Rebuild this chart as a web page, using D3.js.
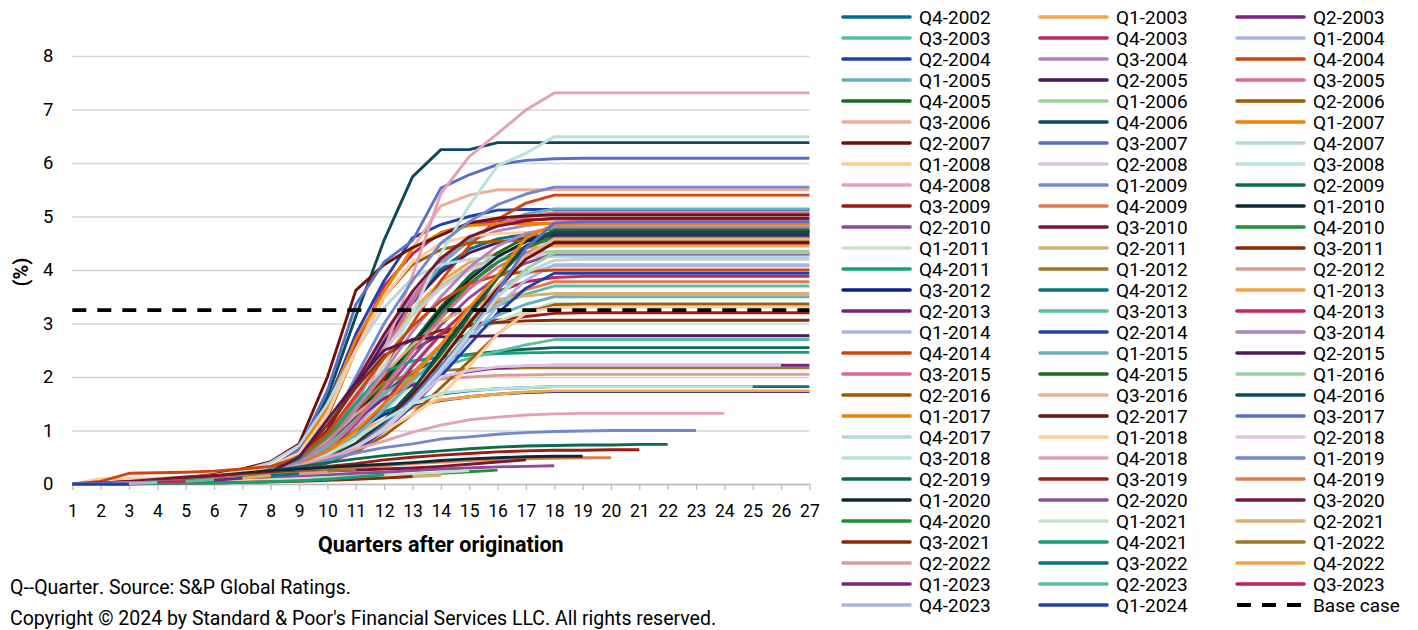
<!DOCTYPE html>
<html><head><meta charset="utf-8">
<script src="https://cdn.jsdelivr.net/npm/d3@7/dist/d3.min.js"></script>
<style>
body{margin:0;background:#fff;}
svg text{font-family:Roboto,"Noto Sans",sans-serif;fill:#000;}
.nokern{font-kerning:none;font-feature-settings:"kern" 0,"liga" 0;}
</style>
</head><body>
<svg id="chart" width="1418" height="630"></svg>
<script>
const quarterTicks = [1,2,3,4,5,6,7,8,9,10,11,12,13,14,15,16,17,18,19,20,21,22,23,24,25,26,27];
const yTicks = [0,1,2,3,4,5,6,7,8];
const baseCaseValue = 3.25;
const baseCaseLabel = "Base case";
const xTitle = "Quarters after origination";
const yTitle = "(%)";
const footnotes = ["Q--Quarter. Source: S&P Global Ratings.", "Copyright \u00a9 2024 by Standard & Poor's Financial Services LLC. All rights reserved."];

const vintages = ["Q4-2002","Q1-2003","Q2-2003","Q3-2003","Q4-2003","Q1-2004","Q2-2004","Q3-2004","Q4-2004","Q1-2005","Q2-2005","Q3-2005","Q4-2005","Q1-2006","Q2-2006","Q3-2006","Q4-2006","Q1-2007","Q2-2007","Q3-2007","Q4-2007","Q1-2008","Q2-2008","Q3-2008","Q4-2008","Q1-2009","Q2-2009","Q3-2009","Q4-2009","Q1-2010","Q2-2010","Q3-2010","Q4-2010","Q1-2011","Q2-2011","Q3-2011","Q4-2011","Q1-2012","Q2-2012","Q3-2012","Q4-2012","Q1-2013","Q2-2013","Q3-2013","Q4-2013","Q1-2014","Q2-2014","Q3-2014","Q4-2014","Q1-2015","Q2-2015","Q3-2015","Q4-2015","Q1-2016","Q2-2016","Q3-2016","Q4-2016","Q1-2017","Q2-2017","Q3-2017","Q4-2017","Q1-2018","Q2-2018","Q3-2018","Q4-2018","Q1-2019","Q2-2019","Q3-2019","Q4-2019","Q1-2020","Q2-2020","Q3-2020","Q4-2020","Q1-2021","Q2-2021","Q3-2021","Q4-2021","Q1-2022","Q2-2022","Q3-2022","Q4-2022","Q1-2023","Q2-2023","Q3-2023","Q4-2023","Q1-2024"];

const colors = ["#007089","#F2A74B","#7B2382","#5BBF9F","#C2255C","#A8B5E0","#2040B0","#B083C0","#D0450B","#6AAFC0","#4E1A5E","#D96A90","#1B6B2A","#9CD0A0","#A05A00","#EBB096","#0B4A5A","#F08000","#6E1206","#5A70C8","#B9D6DF","#FFCC99","#DCC4E0","#B8E3D6","#E3A1B5","#7388D0","#0A6B50","#A01A10","#E07D4F","#0A2B35","#8E4A9C","#7E1530","#1F8F35","#C5E3C9","#D6B06E","#8A2A05","#14A07A","#A07628","#DA9D95","#0E1F85","#0A7185",
"#F2A74B","#7B2382","#5BBF9F","#C2255C","#A8B5E0","#2040B0","#B083C0","#D0450B","#6AAFC0","#4E1A5E","#D96A90","#1B6B2A","#9CD0A0","#A05A00","#EBB096","#0B4A5A","#F08000","#6E1206","#5A70C8","#B9D6DF","#FFCC99","#DCC4E0","#B8E3D6","#E3A1B5","#7388D0","#0A6B50","#A01A10","#E07D4F","#0A2B35","#8E4A9C","#7E1530","#1F8F35","#C5E3C9","#D6B06E","#8A2A05","#14A07A","#A07628","#DA9D95","#0A7185","#F2A74B","#7B2382","#5BBF9F","#C2255C","#A8B5E0","#2040B0"];

const values = [
[0,0.01,0.02,0.04,0.06,0.09,0.14,0.22,0.42,0.95,1.8,2.7,3.45,4.01,4.39,4.58,4.67,4.72,4.72,4.72,4.72,4.72,4.72,4.72,4.72,4.72,4.72],
[0,0.01,0.02,0.04,0.06,0.09,0.14,0.22,0.4,0.9,1.7,2.55,3.25,3.78,4.14,4.32,4.41,4.45,4.45,4.45,4.45,4.45,4.45,4.45,4.45,4.45,4.45],
[0,0,0.01,0.03,0.05,0.08,0.12,0.18,0.37,0.65,1.2,1.85,2.54,3.19,3.74,4.16,4.44,4.62,4.62,4.62,4.62,4.62,4.62,4.62,4.62,4.62,4.62],
[0,0,0.01,0.03,0.05,0.08,0.12,0.18,0.3,0.52,0.96,1.48,2.04,2.55,3,3.33,3.55,3.7,3.7,3.7,3.7,3.7,3.7,3.7,3.7,3.7,3.7],
[0,0.01,0.03,0.05,0.08,0.12,0.18,0.3,0.55,1.3,2.6,3.7,4.3,4.7,4.85,4.92,4.94,4.95,4.95,4.95,4.95,4.95,4.95,4.95,4.95,4.95,4.95],
[0,0,0.01,0.03,0.05,0.08,0.12,0.18,0.33,0.57,1.06,1.63,2.24,2.82,3.3,3.67,3.92,4.08,4.08,4.08,4.08,4.08,4.08,4.08,4.08,4.08,4.08],
[0,0.01,0.03,0.05,0.08,0.12,0.18,0.3,0.6,1.5,2.8,3.8,4.6,4.85,5,5.12,5.13,5.13,5.13,5.13,5.13,5.13,5.13,5.13,5.13,5.13,5.13],
[0,0.01,0.02,0.04,0.06,0.09,0.14,0.22,0.45,0.98,1.85,2.75,3.5,4.15,4.54,4.73,4.83,4.88,4.88,4.88,4.88,4.88,4.88,4.88,4.88,4.88,4.88],
[0,0.01,0.02,0.04,0.06,0.09,0.14,0.22,0.45,0.8,1.4,2.2,3,3.8,4.45,4.95,5.25,5.4,5.4,5.4,5.4,5.4,5.4,5.4,5.4,5.4,5.4],
[0,0.01,0.02,0.04,0.06,0.09,0.14,0.22,0.4,0.8,1.5,2.5,3.4,4.1,4.55,4.85,5.05,5.14,5.14,5.14,5.14,5.14,5.14,5.14,5.14,5.14,5.14],
[0,0.01,0.02,0.04,0.06,0.09,0.14,0.22,0.45,0.95,1.8,2.65,3.39,3.95,4.32,4.51,4.6,4.65,4.65,4.65,4.65,4.65,4.65,4.65,4.65,4.65,4.65],
[0,0.01,0.02,0.04,0.06,0.09,0.14,0.22,0.42,0.85,1.6,2.5,3.4,4.2,4.6,4.85,5,5.07,5.07,5.07,5.07,5.07,5.07,5.07,5.07,5.07,5.07],
[0,0,0.01,0.03,0.05,0.08,0.12,0.18,0.38,0.67,1.25,1.92,2.64,3.31,3.89,4.32,4.61,4.8,4.8,4.8,4.8,4.8,4.8,4.8,4.8,4.8,4.8],
[0,0.01,0.02,0.04,0.06,0.09,0.14,0.22,0.42,0.9,1.7,2.5,3.18,3.7,4.05,4.22,4.31,4.35,4.35,4.35,4.35,4.35,4.35,4.35,4.35,4.35,4.35],
[0,0.01,0.03,0.05,0.08,0.12,0.18,0.3,0.5,1.25,2.5,3.5,4.1,4.38,4.5,4.54,4.55,4.55,4.55,4.55,4.55,4.55,4.55,4.55,4.55,4.55,4.55],
[0,0.01,0.03,0.05,0.08,0.12,0.18,0.3,0.62,1.35,2.5,3.6,4.4,5.2,5.4,5.5,5.5,5.5,5.5,5.5,5.5,5.5,5.5,5.5,5.5,5.5,5.5],
[0,0.01,0.02,0.04,0.06,0.09,0.14,0.22,0.55,1.63,3.13,4.56,5.74,6.25,6.25,6.38,6.38,6.38,6.38,6.38,6.38,6.38,6.38,6.38,6.38,6.38,6.38],
[0,0.01,0.03,0.05,0.08,0.12,0.18,0.3,0.6,1.45,2.7,3.6,4.4,4.69,4.83,4.86,4.87,4.87,4.87,4.87,4.87,4.87,4.87,4.87,4.87,4.87,4.87],
[0,0.02,0.05,0.08,0.12,0.18,0.28,0.42,0.75,2,3.62,4.1,4.42,4.65,4.88,4.97,5.01,5.03,5.03,5.03,5.03,5.03,5.03,5.03,5.03,5.03,5.03],
[0,0.01,0.03,0.05,0.08,0.12,0.18,0.3,0.65,1.75,3.35,4.15,4.55,5.53,5.78,5.97,6.05,6.08,6.09,6.09,6.09,6.09,6.09,6.09,6.09,6.09,6.09],
[0,0.01,0.03,0.06,0.1,0.16,0.25,0.4,0.72,1.5,2.5,3.3,3.85,4.1,4.2,4.24,4.25,4.25,4.25,4.25,4.25,4.25,4.25,4.25,4.25,4.25,4.25],
[0,0.1,0.1,0.11,0.13,0.16,0.22,0.33,0.58,1.3,2.5,3.5,4.15,4.5,4.63,4.68,4.7,4.7,4.7,4.7,4.7,4.7,4.7,4.7,4.7,4.7,4.7],
[0,0.01,0.02,0.04,0.06,0.09,0.14,0.22,0.43,0.95,1.72,2.49,3.14,3.66,4,4.17,4.26,4.3,4.3,4.3,4.3,4.3,4.3,4.3,4.3,4.3,4.3],
[0,0.01,0.02,0.04,0.06,0.09,0.14,0.22,0.45,0.8,1.4,2.2,3.2,4.31,5.2,5.95,6.18,6.49,6.49,6.49,6.49,6.49,6.49,6.49,6.49,6.49,6.49],
[0,0,0.01,0.03,0.05,0.08,0.12,0.18,0.35,0.6,1.2,2.5,3.9,5.43,6.12,6.55,6.99,7.31,7.31,7.31,7.31,7.31,7.31,7.31,7.31,7.31,7.31],
[0,0.01,0.02,0.04,0.06,0.09,0.14,0.22,0.45,1,2,3,3.8,4.5,4.9,5.22,5.42,5.55,5.55,5.55,5.55,5.55,5.55,5.55,5.55,5.55,5.55],
[0,0.01,0.02,0.04,0.06,0.09,0.14,0.22,0.4,0.75,1.2,1.7,2.1,2.35,2.42,2.48,2.52,2.55,2.55,2.55,2.55,2.55,2.55,2.55,2.55,2.55,2.55],
[0,0.01,0.02,0.04,0.06,0.09,0.14,0.22,0.4,0.7,1.3,2,2.5,2.8,2.97,3.06,3.13,3.19,3.2,3.2,3.2,3.2,3.2,3.2,3.2,3.2,3.2],
[0,0,0.01,0.03,0.05,0.08,0.12,0.18,0.3,0.53,0.98,1.51,2.08,2.61,3.06,3.4,3.63,3.78,3.78,3.78,3.78,3.78,3.78,3.78,3.78,3.78,3.78],
[0,0,0.01,0.03,0.05,0.08,0.12,0.18,0.38,0.66,1.23,1.89,2.6,3.26,3.82,4.25,4.53,4.72,4.72,4.72,4.72,4.72,4.72,4.72,4.72,4.72,4.72],
[0,0,0.01,0.03,0.05,0.08,0.12,0.18,0.34,0.6,1.12,1.72,2.37,2.97,3.48,3.87,4.13,4.3,4.3,4.3,4.3,4.3,4.3,4.3,4.3,4.3,4.3],
[0,0.01,0.02,0.04,0.06,0.09,0.14,0.22,0.48,1.0,1.9,2.8,3.6,4.22,4.62,4.82,4.92,4.97,4.97,4.97,4.97,4.97,4.97,4.97,4.97,4.97,4.97],
[0,0,0.01,0.03,0.05,0.08,0.12,0.18,0.37,0.64,1.2,1.84,2.53,3.17,3.73,4.14,4.42,4.6,4.6,4.6,4.6,4.6,4.6,4.6,4.6,4.6,4.6],
[0,0,0.01,0.03,0.05,0.08,0.12,0.18,0.27,0.47,0.88,1.35,1.86,2.33,2.74,3.04,3.24,3.38,3.38,3.38,3.38,3.38,3.38,3.38,3.38,3.38,3.38],
[0,0.01,0.02,0.04,0.06,0.09,0.14,0.22,0.36,0.78,1.42,2.06,2.6,3.03,3.31,3.45,3.52,3.56,3.56,3.56,3.56,3.56,3.56,3.56,3.56,3.56,3.56],
[0,0.01,0.02,0.04,0.06,0.09,0.14,0.22,0.5,1.1,1.8,2.4,2.7,2.87,2.95,3.02,3.05,3.06,3.06,3.06,3.06,3.06,3.06,3.06,3.06,3.06,3.06],
[0,0.01,0.02,0.04,0.06,0.09,0.14,0.22,0.45,0.9,1.5,2.1,2.3,2.37,2.41,2.44,2.45,2.46,2.46,2.46,2.46,2.46,2.46,2.46,2.46,2.46,2.46],
[0,0.01,0.02,0.04,0.06,0.09,0.14,0.22,0.4,0.85,1.4,1.9,2.05,2.12,2.15,2.16,2.17,2.17,2.17,2.17,2.17,2.17,2.17,2.17,2.17,2.17,2.17],
[0,0.01,0.02,0.04,0.06,0.09,0.14,0.22,0.38,0.8,1.3,1.72,1.88,1.96,2,2.03,2.04,2.05,2.05,2.05,2.05,2.05,2.05,2.05,2.05,2.05,2.05],
[0,0,0.01,0.03,0.05,0.08,0.12,0.18,0.35,0.65,1,1.3,1.45,1.56,1.63,1.68,1.71,1.73,1.73,1.73,1.73,1.73,1.73,1.73,1.73,1.73,1.73],
[0,0,0.01,0.03,0.05,0.08,0.12,0.18,0.35,0.65,1,1.35,1.55,1.68,1.74,1.78,1.8,1.82,1.82,1.82,1.82,1.82,1.82,1.82,1.82,1.82,1.82],
[0,0,0.01,0.03,0.05,0.08,0.12,0.18,0.32,0.6,0.95,1.2,1.42,1.57,1.63,1.68,1.72,1.74,1.74,1.74,1.74,1.74,1.74,1.74,1.74,1.74,1.74],
[0,0,0.01,0.03,0.05,0.08,0.12,0.18,0.4,0.75,1.2,1.6,1.85,2,2.1,2.17,2.2,2.22,2.22,2.22,2.22,2.22,2.22,2.22,2.22,2.22,2.22],
[0,0,0.01,0.03,0.05,0.08,0.12,0.18,0.35,0.7,1.2,1.7,2,2.2,2.35,2.48,2.6,2.7,2.7,2.7,2.7,2.7,2.7,2.7,2.7,2.7,2.7],
[0,0,0.01,0.03,0.05,0.08,0.12,0.18,0.3,0.5,0.9,1.5,2.2,2.8,3.3,3.6,3.78,3.86,3.88,3.88,3.88,3.88,3.88,3.88,3.88,3.88,3.88],
[0,0,0.01,0.03,0.05,0.08,0.12,0.18,0.29,0.41,0.66,1.03,1.52,2.09,2.71,3.32,3.81,4.1,4.1,4.1,4.1,4.1,4.1,4.1,4.1,4.1,4.1],
[0,0,0.01,0.03,0.05,0.08,0.12,0.18,0.28,0.39,0.63,0.99,1.46,2.01,2.6,3.19,3.66,3.94,3.94,3.94,3.94,3.94,3.94,3.94,3.94,3.94,3.94],
[0,0.01,0.02,0.04,0.06,0.09,0.14,0.22,0.4,0.75,1.4,2.1,2.85,3.5,4.05,4.45,4.68,4.8,4.8,4.8,4.8,4.8,4.8,4.8,4.8,4.8,4.8],
[0,0.05,0.2,0.21,0.22,0.24,0.28,0.33,0.5,0.95,1.65,2.35,2.95,3.42,3.74,3.9,3.97,4,4,4,4,4,4,4,4,4,4],
[0,0,0.01,0.03,0.05,0.08,0.12,0.18,0.28,0.49,0.91,1.4,1.93,2.42,2.84,3.15,3.36,3.5,3.5,3.5,3.5,3.5,3.5,3.5,3.5,3.5,3.5],
[0,0.01,0.02,0.04,0.06,0.09,0.14,0.22,0.5,1.2,1.9,2.5,2.7,2.75,2.76,2.77,2.77,2.77,2.77,2.77,2.77,2.77,2.77,2.77,2.77,2.77,2.77],
[0,0,0.01,0.03,0.05,0.08,0.12,0.18,0.36,0.63,1.17,1.8,2.48,3.1,3.65,4.05,4.32,4.5,4.5,4.5,4.5,4.5,4.5,4.5,4.5,4.5,4.5],
[0,0,0.01,0.03,0.05,0.08,0.12,0.18,0.33,0.48,0.76,1.19,1.76,2.42,3.14,3.85,4.42,4.75,4.75,4.75,4.75,4.75,4.75,4.75,4.75,4.75,4.75],
[0,0,0.01,0.03,0.05,0.08,0.12,0.18,0.3,0.43,0.69,1.08,1.6,2.2,2.85,3.5,4.02,4.32,4.32,4.32,4.32,4.32,4.32,4.32,4.32,4.32,4.32],
[0,0,0.01,0.03,0.05,0.08,0.12,0.18,0.3,0.4,0.6,0.9,1.3,1.8,2.3,2.8,3.2,3.35,3.36,3.36,3.36,3.36,3.36,3.36,3.36,3.36,3.36],
[0,0,0.01,0.03,0.05,0.08,0.12,0.18,0.32,0.46,0.73,1.15,1.69,2.34,3.02,3.71,4.26,4.58,4.58,4.58,4.58,4.58,4.58,4.58,4.58,4.58,4.58],
[0,0,0.01,0.03,0.05,0.08,0.12,0.18,0.33,0.47,0.75,1.18,1.74,2.5,3.2,3.9,4.45,4.7,4.7,4.7,4.7,4.7,4.7,4.7,4.7,4.7,4.7],
[0,0,0.01,0.03,0.05,0.08,0.12,0.18,0.35,0.6,1,1.5,2,2.6,3.3,3.9,4.6,4.85,4.86,4.86,4.86,4.86,4.86,4.86,4.86,4.86,4.86],
[0,0,0.01,0.03,0.05,0.08,0.12,0.18,0.32,0.45,0.72,1.13,1.67,2.3,3,3.65,4.2,4.51,4.51,4.51,4.51,4.51,4.51,4.51,4.51,4.51,4.51],
[0,0,0.01,0.03,0.05,0.08,0.12,0.18,0.3,0.45,0.7,1.1,1.6,2.2,2.8,3.6,4.4,4.88,4.9,4.9,4.9,4.9,4.9,4.9,4.9,4.9,4.9],
[0,0,0.01,0.03,0.05,0.08,0.12,0.18,0.3,0.42,0.67,1.05,1.55,2.14,2.8,3.5,3.95,4.18,4.2,4.2,4.2,4.2,4.2,4.2,4.2,4.2,4.2],
[0,0.01,0.02,0.04,0.06,0.09,0.14,0.22,0.3,0.45,0.7,1,1.3,1.65,2.2,2.8,3.2,3.3,3.31,3.31,3.31,3.31,3.31,3.31,3.31,3.31,3.31],
[0,0.01,0.02,0.04,0.06,0.09,0.14,0.22,0.3,0.45,0.7,1,1.5,2,2.12,2.19,2.21,2.22,2.22,2.22,2.22,2.22,2.22,2.22,2.22,2.22],
[0,0.01,0.02,0.04,0.06,0.09,0.14,0.22,0.32,0.55,0.85,1.2,1.5,1.7,1.75,1.78,1.8,1.82,1.82,1.82,1.82,1.82,1.82,1.82,1.82],
[0,0.01,0.02,0.04,0.06,0.09,0.14,0.22,0.35,0.5,0.65,0.8,0.97,1.1,1.2,1.25,1.29,1.31,1.32,1.32,1.32,1.32,1.32,1.32],
[0,0.01,0.02,0.04,0.06,0.09,0.14,0.22,0.3,0.45,0.58,0.68,0.75,0.84,0.88,0.93,0.96,0.98,0.99,1,1,1,1],
[0,0.01,0.02,0.05,0.08,0.12,0.18,0.25,0.32,0.4,0.47,0.53,0.58,0.62,0.66,0.69,0.71,0.72,0.73,0.73,0.74,0.74],
[0,0.01,0.02,0.04,0.07,0.11,0.16,0.22,0.28,0.33,0.38,0.45,0.5,0.54,0.57,0.6,0.62,0.63,0.63,0.64,0.64],
[0,0.01,0.02,0.04,0.07,0.1,0.15,0.2,0.24,0.27,0.3,0.34,0.38,0.41,0.44,0.46,0.47,0.48,0.49,0.49],
[0,0.01,0.03,0.06,0.1,0.15,0.2,0.25,0.28,0.31,0.34,0.37,0.4,0.44,0.47,0.49,0.51,0.52,0.52],
[0,0,0.01,0.02,0.04,0.06,0.09,0.12,0.15,0.17,0.2,0.22,0.25,0.28,0.3,0.32,0.33,0.34],
[0,0.02,0.05,0.09,0.13,0.16,0.18,0.2,0.22,0.24,0.26,0.28,0.3,0.33,0.37,0.41,0.45],
[0,0,0.01,0.02,0.03,0.04,0.06,0.08,0.1,0.12,0.14,0.16,0.18,0.2,0.23,0.26],
[0,0,0.01,0.02,0.03,0.04,0.06,0.08,0.1,0.12,0.14,0.16,0.19,0.22,0.25],
[0,0,0.01,0.01,0.02,0.03,0.04,0.05,0.06,0.08,0.1,0.12,0.14,0.16],
[0,0,0,0.01,0.02,0.02,0.03,0.04,0.05,0.07,0.09,0.11,0.14],
[0,0,0.01,0.01,0.02,0.02,0.03,0.04,0.06,0.09,0.13,0.17],
[0,0.01,0.02,0.04,0.07,0.1,0.14,0.18,0.21,0.24,0.27],
[0,0.01,0.02,0.04,0.06,0.09,0.13,0.16,0.19,0.22],
[0,0.01,0.02,0.04,0.06,0.09,0.12,0.16,0.19],
[0,0.01,0.02,0.03,0.05,0.08,0.11,0.16],
[0,0,0.01,0.03,0.05,0.07,0.11],
[0,0,0.01,0.03,0.05,0.08],
[0,0,0.01,0.03,0.05],
[0,0,0.01,0.03],
[0,0,0]
];

const svg = d3.select("#chart");
const x = d3.scaleLinear().domain([1, 27]).range([72.3, 809.4]);
const y = d3.scaleLinear().domain([0, 8]).range([484, 56]);
const FONT = "Roboto, 'Noto Sans', sans-serif";

// gridlines + y labels
const gy = svg.append("g").attr("transform", `translate(${x(1)},0)`)
  .call(d3.axisLeft(y).tickValues(yTicks).tickSize(-(x(27) - x(1))).tickPadding(19).tickFormat(d3.format("d")));
gy.select(".domain").remove();
gy.selectAll(".tick line").attr("stroke", "#d6d6d6").attr("stroke-width", 1.3);
gy.selectAll(".tick text").attr("font-size", 18.5).attr("font-family", FONT).attr("fill", "#000");

// x axis
const gx = svg.append("g").attr("transform", `translate(0,${y(0)})`)
  .call(d3.axisBottom(x).tickValues(quarterTicks).tickSize(6).tickSizeOuter(0).tickPadding(15).tickFormat(d3.format("d")));
gx.select(".domain").attr("stroke", "#bcbcbc").attr("stroke-width", 1.5);
gx.selectAll(".tick line").attr("stroke", "#bcbcbc").attr("stroke-width", 1.3);
gx.selectAll(".tick text").attr("font-size", 17.5).attr("font-family", FONT).attr("fill", "#000");

// series lines
const line = d3.line().x((d, i) => x(quarterTicks[i])).y(d => y(d));
const gl = svg.append("g");
values.forEach((vals, i) => {
  gl.append("path").attr("d", line(vals)).attr("fill", "none")
    .attr("stroke", colors[i]).attr("stroke-width", 2.9)
    .attr("stroke-linejoin", "round").attr("stroke-linecap", "butt");
});
// base case
gl.append("path").attr("d", line(quarterTicks.map(() => baseCaseValue))).attr("fill", "none")
  .attr("stroke", "#000").attr("stroke-width", 3.6).attr("stroke-dasharray", "14,11");

// axis titles
svg.append("text").attr("x", (x(1) + x(27)) / 2).attr("y", 552).attr("text-anchor", "middle")
  .attr("font-size", 21.5).attr("font-weight", 700).attr("font-family", FONT).text(xTitle);
svg.append("text").attr("transform", "translate(28,272) rotate(-90)").attr("text-anchor", "middle")
  .attr("font-size", 20).attr("font-weight", 700).attr("font-family", FONT).text(yTitle);

// footnotes
svg.append("text").attr("class", "nokern").attr("x", 10).attr("y", 594).attr("font-size", 19.5).attr("font-family", FONT).text(footnotes[0]);
svg.append("text").attr("x", 10).attr("y", 625).attr("font-size", 19.5).attr("font-family", FONT).text(footnotes[1]);

// legend
const legendItems = vintages.map((v, i) => ({ label: v, color: colors[i], dash: null }))
  .concat([{ label: baseCaseLabel, color: "#000", dash: "14,11" }]);
const colSwatchX = [843, 1040, 1237];
const swW = 67;
const gLeg = svg.append("g");
legendItems.forEach((d, i) => {
  const r = Math.floor(i / 3), c = i % 3;
  const cy = 17 + r * 21;
  gLeg.append("line").attr("x1", colSwatchX[c]).attr("x2", colSwatchX[c] + swW)
    .attr("y1", cy).attr("y2", cy).attr("stroke", d.color)
    .attr("stroke-width", d.dash ? 4 : 3.6).attr("stroke-linecap", d.dash ? "butt" : "round")
    .attr("stroke-dasharray", d.dash);
  gLeg.append("text").attr("x", colSwatchX[c] + 76).attr("y", cy).attr("dy", "0.36em")
    .attr("font-size", 19).attr("font-family", FONT).text(d.label);
});
</script>
</body></html>
